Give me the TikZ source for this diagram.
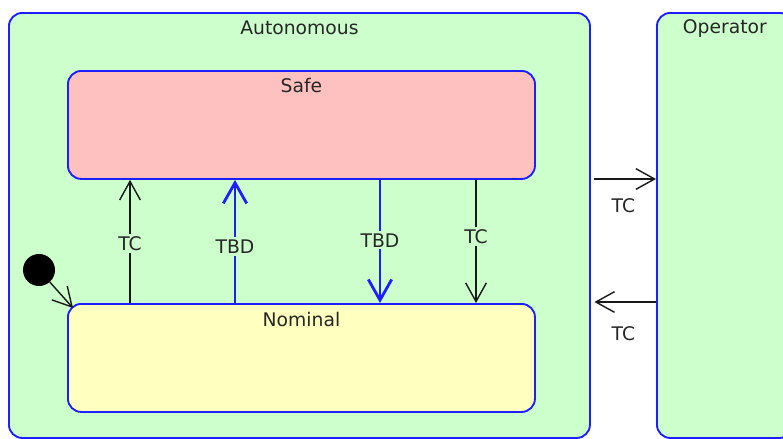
\documentclass[tikz,border=0pt]{standalone}
\usepackage{fontspec}
\setmainfont{DejaVu Sans}
\usetikzlibrary{calc}
\usetikzlibrary{arrows.meta}

\definecolor{stateblue}{RGB}{30,30,255}
\definecolor{autogreen}{RGB}{204,255,204}
\definecolor{safepink}{RGB}{255,192,192}
\definecolor{nomyellow}{RGB}{255,255,192}

\begin{document}
\begin{tikzpicture}[x=0.03cm, y=-0.03cm,
    statebox/.style={draw=stateblue, line width=1.6pt, rounded corners=0.4cm, anchor=north west, inner sep=0pt},
    tc/.style={draw=black!90, line width=1.2pt, -{Straight Barb[length=0.56cm,width=0.62cm]}},
    tbd/.style={draw=stateblue, line width=2.4pt, -{Straight Barb[length=0.62cm,width=0.7cm]}},
    txt/.style={font=\fontsize{16}{19}\selectfont, text=black!85},
    lbl/.style={txt, fill=autogreen, inner sep=2pt}]

            % Picture frame
            \useasboundingbox (0,0) rectangle (783,438);
            \clip (0,0) rectangle (783,438);

            % Draw the outer states
            \node[statebox, fill=autogreen, minimum width=17.43cm, minimum height=12.75cm] (auto) at (8,12) {};
            \node[statebox, fill=autogreen, minimum width=4.08cm, minimum height=12.75cm] (oper) at (656,12) {};
            \node[txt] at ($(auto.north)+(0,16)$) {Autonomous};
            \node[txt] at ($(oper.north)+(0,16)$) {Operator};

            % Draw the inner states
            \node[statebox, fill=safepink, minimum width=14.01cm, minimum height=3.24cm] (safe) at (67,70) {};
            \node[statebox, fill=nomyellow, minimum width=14.01cm, minimum height=3.24cm] (nominal) at (67,303) {};
            \node[txt] at ($(safe.north)+(0,16)$) {Safe};
            \node[txt] at ($(nominal.north)+(0,17)$) {Nominal};

            % Draw initial state
            \node[circle, fill=black, inner sep=0pt, minimum size=0.96cm] (init) at (39,270) {};
            \draw[tc] (init) -- ($(nominal.north west)+(6,5)$);

            % Draw transitions between safe and nominal
            \draw[tc] (130,0 |- nominal.north) -- node[lbl, pos=0.48] {TC} (130,0 |- safe.south);
            \draw[tbd] (235,0 |- nominal.north) -- node[lbl, pos=0.46] {TBD} (235,0 |- safe.south);
            \draw[tbd] (380,0 |- safe.south) -- node[lbl, pos=0.49] {TBD} (380,0 |- nominal.north);
            \draw[tc] (476,0 |- safe.south) -- node[lbl, pos=0.46] {TC} (476,0 |- nominal.north);

            % Draw transitions to and from operator
            \draw[tc, shorten <=3pt] (auto.east |- 0,179) -- node[txt, below=0.56cm, inner sep=0pt] {TC} (oper.west |- 0,179);
            \draw[tc, shorten >=3pt] (oper.west |- 0,302) -- node[txt, below=0.72cm, inner sep=0pt] {TC} (auto.east |- 0,302);

\end{tikzpicture}
\end{document}
